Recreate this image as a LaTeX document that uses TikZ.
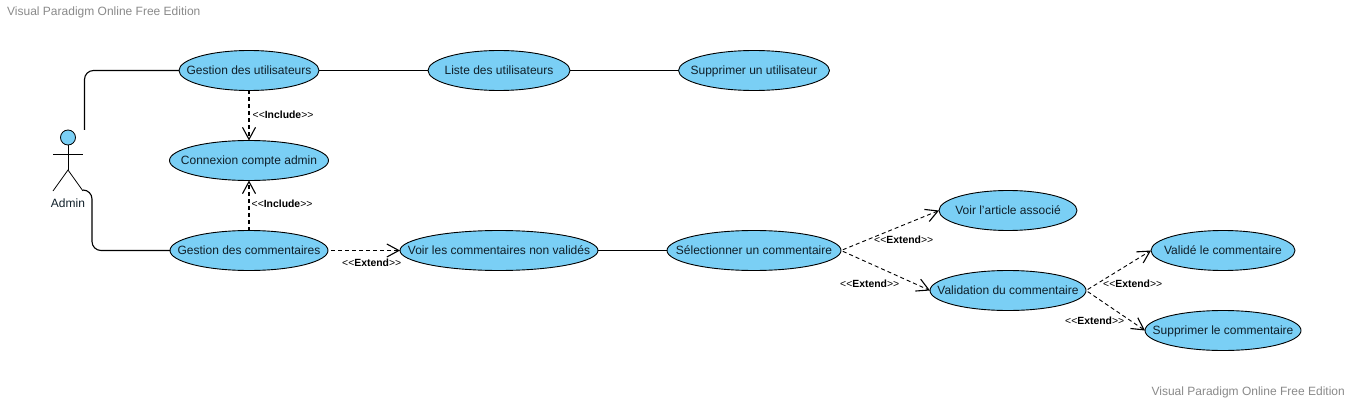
\documentclass[tikz,border=0pt]{standalone}
\usepackage{fontspec}
\setmainfont{Liberation Sans}
\usetikzlibrary{shapes.geometric,arrows.meta}
\definecolor{ucfill}{HTML}{7ACFF5}
\definecolor{wm}{HTML}{8A8A8A}
\definecolor{uctext}{HTML}{10202A}
\newcommand{\uctxt}[1]{\makebox[0pt]{#1}}
\newcommand{\stereotxt}[1]{<{}<\textbf{#1}>{}>}
\tikzset{
  uc/.style={ellipse,draw=black,line width=0.9pt,fill=ucfill,inner sep=0pt,outer sep=0pt,text=uctext,text height=8.4pt,text depth=0pt,font=\fontsize{12}{13}\selectfont},
  assoc/.style={draw=black,line width=1.1pt,rounded corners=9pt},
  dep/.style={draw=black,line width=0.9pt,dash pattern=on 4pt off 3pt,-{Straight Barb[length=12pt,width=13pt,line width=1.1pt]}},
  inc/.style={dep,line width=1.4pt},
  stereo/.style={font=\fontsize{10.4}{11}\selectfont,text=black,inner sep=0pt},
  wmark/.style={font=\fontsize{12}{13}\selectfont,text=wm,inner sep=0pt},
  actorline/.style={draw=black,line width=0.8pt}
}
\begin{document}
\begin{tikzpicture}[x=1pt,y=-1pt]
\useasboundingbox (0,0) rectangle (1351,401);
\fill[white] (0,0) rectangle (1351,401);
\node[wmark,anchor=west] (wma) at (7,12) {Visual Paradigm Online Free Edition};
\node[wmark,anchor=east] (wmb) at (1345,392) {Visual Paradigm Online Free Edition};
% actor
\node[circle,draw=black,line width=0.8pt,fill=ucfill,minimum size=15pt,inner sep=0pt] (head) at (68,137.5) {};
\coordinate (hip) at (68,170);
\coordinate (armL) at (53,154);
\coordinate (armR) at (83,154);
\coordinate (footL) at (53,191);
\coordinate (footR) at (83,191);
\draw[actorline] (head.south) -- (hip);
\draw[actorline] (armL) -- (armR);
\draw[actorline] (footL) -- (hip) -- (footR);
\node[inner sep=0pt,font=\fontsize{12}{13}\selectfont,text=uctext] (admin) at (68,203.5) {Admin};
% use cases
\node[uc,minimum width=140pt,minimum height=40pt] (gu) at (249,70.5) {\uctxt{Gestion des utilisateurs}};
\node[uc,minimum width=159pt,minimum height=40pt] (ca) at (249,160.5) {\uctxt{Connexion compte admin}};
\node[uc,minimum width=158pt,minimum height=40pt] (gc) at (249,250.5) {\uctxt{Gestion des commentaires}};
\node[uc,minimum width=142pt,minimum height=40pt] (lu) at (499,70.5) {\uctxt{Liste des utilisateurs}};
\node[uc,minimum width=151pt,minimum height=40pt] (su) at (754,70.5) {\uctxt{Supprimer un utilisateur}};
\node[uc,minimum width=198pt,minimum height=40pt] (vc) at (499,250.5) {\uctxt{Voir les commentaires non validés}};
\node[uc,minimum width=174pt,minimum height=40pt] (sc) at (754,250.5) {\uctxt{Sélectionner un commentaire}};
\node[uc,minimum width=138pt,minimum height=40pt] (va) at (1008,210.5) {\uctxt{Voir l\char"27 article associé}};
\node[uc,minimum width=156pt,minimum height=40pt] (vd) at (1008,290.5) {\uctxt{Validation du commentaire}};
\node[uc,minimum width=144pt,minimum height=40pt] (vl) at (1223,250.5) {\uctxt{Validé le commentaire}};
\node[uc,minimum width=156pt,minimum height=40pt] (sl) at (1223,330.5) {\uctxt{Supprimer le commentaire}};
% associations
\coordinate (a1) at (84.5,130);
\coordinate (a2) at (83,190);
\draw[assoc] (a1) |- (gu.west);
\draw[assoc] (a2) -- (92,190) -- (92,250.5) -- (gc.west);
\draw[assoc,rounded corners=0pt] (gu.east) -- (lu.west);
\draw[assoc,rounded corners=0pt] (lu.east) -- (su.west);
\draw[assoc,rounded corners=0pt] (vc.east) -- (sc.west);
% dependencies
\draw[inc] (gu.south) -- (ca.north);
\draw[inc] (gc.north) -- (ca.south);
\draw[dep,shorten <=3pt] (gc.east) -- (vc.west);
\draw[dep,shorten <=2pt] (sc.east) -- (va.west);
\draw[dep,shorten <=2pt] (sc.east) -- (vd.west);
\draw[dep,shorten <=2pt] (vd.east) -- (vl.west);
\draw[dep,shorten <=2pt] (vd.east) -- (sl.west);
% labels
\node[stereo,anchor=west] (l1) at (252.5,114.5) {\stereotxt{Include}};
\node[stereo,anchor=west] (l2) at (251.5,204) {\stereotxt{Include}};
\node[stereo,anchor=west] (l3) at (342,262.5) {\stereotxt{Extend}};
\node[stereo,anchor=west] (l4) at (874,239.5) {\stereotxt{Extend}};
\node[stereo,anchor=west] (l5) at (840,283.5) {\stereotxt{Extend}};
\node[stereo,anchor=west] (l6) at (1103,283.5) {\stereotxt{Extend}};
\node[stereo,anchor=west] (l7) at (1065,321) {\stereotxt{Extend}};
\end{tikzpicture}
\end{document}
